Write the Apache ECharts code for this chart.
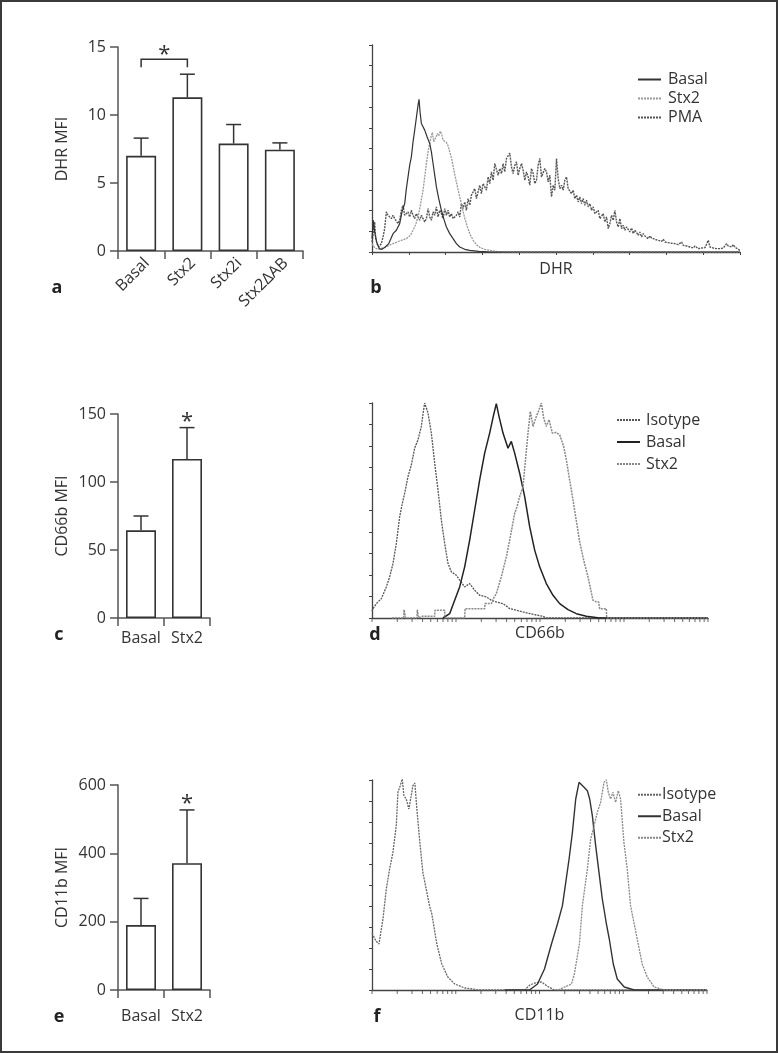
<!DOCTYPE html>
<html><head><meta charset="utf-8">
<script src="https://cdn.jsdelivr.net/npm/echarts@6/dist/echarts.min.js"></script>
<style>html,body{margin:0;padding:0;background:#fff}#c{width:778px;height:1053px}</style>
</head><body><div id="c"></div>
<script>
const FONT = "'Open Sans', 'DejaVu Sans', sans-serif";
const INK = '#333';

// ---- Panel a : DHR MFI bars ----
const aCategories = ['Basal', 'Stx2', 'Stx2i', 'Stx2ΔAB'];
const aMeans = [7.0, 11.3, 7.9, 7.45];
const aErrs = [1.3, 1.7, 1.4, 0.5];
const aBracket = [0, 1];

// ---- Panel c : CD66b MFI bars ----
const cCategories = ['Basal', 'Stx2'];
const cMeans = [64.5, 117];
const cErrs = [10.5, 23];
const cStar = [1];

// ---- Panel e : CD11b MFI bars ----
const eCategories = ['Basal', 'Stx2'];
const eMeans = [190, 371];
const eErrs = [78, 156];
const eStar = [1];

// ---- Panel b : DHR histograms (channel, counts) ----
const bBasal = [[0,40],[4,95],[8,60],[14,30],[22,10],[30,8],[40,15],[50,25],[63,55],[73,65],[83,85],[90,120],[98,145],[103,190],[108,225],[113,260],[118,285],[123,330],[128,365],[134,410],[138,440],[141,457],[144,420],[148,385],[153,375],[158,365],[165,345],[173,325],[178,300],[183,265],[188,230],[193,195],[200,160],[208,125],[215,100],[223,75],[233,55],[243,40],[253,25],[263,15],[278,8],[293,5],[320,2],[360,0],[1103,0]];
const bStx2 = [[0,25],[8,12],[20,8],[40,15],[63,25],[83,33],[103,40],[115,50],[123,65],[130,80],[138,105],[145,140],[153,185],[158,225],[163,265],[168,300],[173,325],[178,348],[181,358],[185,330],[188,325],[192,345],[196,355],[200,348],[205,362],[209,352],[213,335],[218,332],[223,328],[228,318],[233,300],[238,282],[243,258],[248,232],[255,200],[263,165],[270,135],[277,105],[285,78],[293,55],[303,35],[313,22],[323,14],[338,8],[358,4],[380,1],[420,0],[1103,0]];
const bPMA = [[0,30],[4,60],[8,90],[11,40],[15,25],[20,15],[28,25],[33,45],[38,70],[43,120],[48,110],[53,105],[58,100],[63,110],[68,100],[73,95],[78,85],[83,95],[88,125],[93,140],[98,110],[103,115],[108,120],[113,105],[118,125],[123,110],[128,100],[133,115],[138,120],[143,95],[148,110],[153,115],[158,90],[163,100],[168,130],[173,105],[178,95],[183,120],[188,110],[193,135],[198,105],[203,125],[208,115],[213,100],[218,130],[223,110],[228,125],[233,105],[238,115],[243,100],[248,105],[253,110],[258,120],[263,105],[268,145],[273,130],[278,150],[283,125],[288,160],[293,140],[298,170],[303,165],[308,190],[313,160],[318,180],[323,200],[328,175],[333,205],[338,195],[343,185],[348,225],[353,205],[358,240],[363,215],[368,265],[373,270],[378,230],[383,250],[388,235],[393,265],[398,240],[403,280],[408,275],[413,296],[418,255],[423,235],[428,260],[433,270],[438,230],[443,250],[448,265],[453,245],[458,215],[463,240],[468,225],[473,200],[478,250],[483,235],[488,205],[493,215],[498,260],[503,280],[508,225],[513,230],[518,250],[523,240],[528,210],[533,230],[538,165],[543,200],[548,185],[553,280],[558,220],[563,190],[568,200],[573,185],[578,215],[583,225],[588,190],[593,195],[598,175],[603,185],[608,160],[613,170],[618,150],[623,165],[628,145],[633,160],[638,140],[643,155],[648,135],[653,145],[658,125],[663,135],[668,115],[673,120],[678,125],[683,100],[688,105],[693,115],[698,90],[703,105],[708,70],[713,85],[718,110],[723,95],[728,125],[733,90],[738,75],[743,100],[748,70],[753,80],[758,65],[763,75],[768,70],[773,60],[778,72],[783,55],[788,65],[793,58],[798,50],[803,60],[808,45],[813,55],[818,48],[823,50],[828,40],[833,48],[838,42],[843,45],[848,38],[853,42],[858,35],[863,40],[868,32],[873,38],[878,30],[883,35],[888,28],[893,32],[898,26],[903,30],[908,25],[913,28],[918,22],[923,26],[928,30],[933,20],[938,25],[943,18],[948,22],[953,15],[958,20],[963,12],[968,18],[973,14],[978,10],[983,15],[988,12],[993,10],[998,13],[1003,11],[1008,35],[1013,15],[1018,10],[1023,12],[1028,14],[1033,10],[1038,12],[1043,10],[1048,14],[1053,12],[1058,10],[1063,25],[1068,18],[1073,20],[1078,15],[1083,22],[1088,14],[1093,10],[1098,8],[1103,5]];

// ---- Panel d : CD66b histograms (log channel, counts) ----
const dIsotype = [[0,20],[3,28],[13,43],[28,58],[43,93],[53,123],[63,163],[73,223],[83,303],[91,343],[98,373],[108,423],[118,458],[128,508],[138,533],[148,573],[153,610],[158,643],[168,613],[178,553],[188,463],[198,383],[208,293],[218,223],[228,163],[238,138],[253,128],[263,113],[278,93],[293,103],[308,83],[323,68],[343,63],[358,53],[373,48],[393,43],[413,28],[433,23],[453,18],[483,11],[513,5],[523,0],[1008,0]];
const dBasal = [[213,0],[233,13],[248,53],[263,93],[278,153],[293,233],[308,323],[323,413],[338,493],[353,553],[365,608],[373,641],[381,603],[393,553],[408,508],[418,528],[428,493],[443,433],[458,363],[473,273],[488,203],[503,153],[523,103],[543,68],[563,43],[588,25],[613,13],[643,5],[683,0],[1008,0]];
const dStx2 = [[60,0],[95,0],[96,25],[100,25],[101,0],[135,0],[136,25],[140,0],[150,5],[188,5],[189,23],[218,23],[219,0],[278,0],[279,28],[338,28],[339,43],[358,43],[365,60],[373,73],[388,123],[403,183],[415,243],[428,313],[435,333],[443,363],[453,393],[460,468],[468,553],[475,618],[483,573],[493,603],[500,620],[508,643],[515,598],[523,573],[531,593],[541,553],[552,555],[563,548],[575,513],[583,473],[590,430],[598,383],[611,303],[623,228],[635,173],[648,123],[655,90],[663,53],[673,48],[680,48],[683,28],[703,28],[704,0],[1008,0]];

// ---- Panel f : CD11b histograms (log channel, counts) ----
const fIsotype = [[0,170],[3,168],[12,147],[21,138],[33,213],[43,303],[53,363],[63,413],[73,493],[78,593],[85,613],[91,633],[96,583],[103,573],[111,543],[118,583],[123,613],[129,621],[135,543],[143,453],[153,353],[163,303],[173,253],[180,228],[195,138],[210,78],[228,39],[249,18],[279,6],[324,0],[459,0],[475,15],[490,21],[510,24],[530,10],[549,0],[1008,0]];
const fBasal = [[400,0],[474,0],[498,18],[519,63],[540,138],[558,198],[573,253],[583,323],[593,393],[603,473],[613,573],[623,623],[628,628],[638,608],[648,598],[655,573],[663,523],[673,433],[683,353],[693,273],[698,243],[705,200],[714,153],[726,78],[738,33],[759,9],[789,0],[1008,0]];
const fStx2 = [[560,0],[600,18],[609,48],[624,138],[633,253],[648,363],[658,453],[668,493],[678,533],[688,563],[698,623],[705,631],[711,593],[718,573],[725,593],[733,563],[741,598],[748,573],[758,443],[768,363],[778,253],[798,153],[813,78],[828,39],[849,9],[879,0],[1008,0]];

// log-axis tick values (4 decades)
const logTickValues = [1,2,3,4,5,6,7,8,9,10,20,30,40,50,60,70,80,90,100,200,300,400,500,600,700,800,900,1000,2000,3000,4000,5000,6000,7000,8000,9000,10000];
const DECADE = 252;

const chart = echarts.init(document.getElementById('c'), null, {renderer: 'canvas'});

const grids = [
  {left: 118, top: 47, width: 185, height: 204},
  {left: 372, top: 45, width: 368, height: 207},
  {left: 118, top: 414, width: 92, height: 204},
  {left: 372, top: 403, width: 336, height: 215},
  {left: 118, top: 785, width: 92, height: 205},
  {left: 372, top: 780, width: 335, height: 210}
];

const barAxisLine = {show: true, lineStyle: {color: '#555', width: 1.5}};
const barTick = {show: true, length: 8, lineStyle: {color: '#555', width: 1.5}};
const lbl = {fontSize: 16, color: INK, fontFamily: FONT};
const histLine = {show: true, lineStyle: {color: '#444', width: 1.3}};
const histTick = {show: true, length: 3, lineStyle: {color: '#444', width: 1}};

function catX(idx, cats, extra) {
  return Object.assign({type: 'category', gridIndex: idx, data: cats, axisLine: barAxisLine,
    axisTick: barTick, axisLabel: Object.assign({margin: 12, interval: 0, hideOverlap: false}, lbl), splitLine: {show: false}}, extra || {});
}
function barY(idx, max, interval, name) {
  return {type: 'value', gridIndex: idx, min: 0, max: max, interval: interval, name: name,
    nameLocation: 'middle', nameGap: 48, nameTextStyle: lbl,
    axisLine: barAxisLine, axisTick: barTick, axisLabel: Object.assign({margin: 12}, lbl), splitLine: {show: false}};
}
function histX(idx, max, name, gap, ticks) {
  return {type: 'value', gridIndex: idx, min: 0, max: max, interval: max / 10, name: name,
    nameLocation: 'middle', nameGap: gap, nameTextStyle: lbl,
    axisLine: histLine, axisTick: ticks ? histTick : {show: false}, axisLabel: {show: false}, splitLine: {show: false}};
}
function histY(idx, max) {
  return {type: 'value', gridIndex: idx, min: 0, max: max, interval: max / 10,
    axisLine: histLine, axisTick: histTick, axisLabel: {show: false}, splitLine: {show: false}};
}

function bars(idx, means) {
  return {type: 'bar', xAxisIndex: idx, yAxisIndex: idx, data: means, barWidth: 30, silent: true,
    itemStyle: {color: '#fff', borderColor: INK, borderWidth: 1.6}, z: 2};
}
function errBars(idx, means, errs) {
  return {type: 'custom', xAxisIndex: idx, yAxisIndex: idx, silent: true, z: 3,
    data: means.map((m, i) => [i, m, errs[i]]),
    encode: {x: 0, y: 1},
    renderItem: function (params, api) {
      const i = api.value(0), m = api.value(1), e = api.value(2);
      const p0 = api.coord([i, m]), p1 = api.coord([i, m + e]);
      const st = {stroke: INK, lineWidth: 1.5};
      return {type: 'group', children: [
        {type: 'line', shape: {x1: p0[0], y1: p0[1], x2: p1[0], y2: p1[1]}, style: st},
        {type: 'line', shape: {x1: p1[0] - 7.5, y1: p1[1], x2: p1[0] + 7.5, y2: p1[1]}, style: st}
      ]};
    }};
}
function starSeries(idx, means, errs, which) {
  return {type: 'custom', xAxisIndex: idx, yAxisIndex: idx, silent: true, z: 4,
    data: which.map(i => [i, means[i] + errs[i]]), encode: {x: 0, y: 1},
    renderItem: function (params, api) {
      const p = api.coord([api.value(0), api.value(1)]);
      return {type: 'text', style: {text: '*', x: p[0], y: p[1] - 6, textAlign: 'center',
        textVerticalAlign: 'middle', font: '22px ' + FONT, fill: INK}};
    }};
}
function bracketSeries(idx, means, errs, pair) {
  return {type: 'custom', xAxisIndex: idx, yAxisIndex: idx, silent: true, z: 4,
    data: [[pair[0], pair[1]]], encode: {x: [0, 1]},
    renderItem: function (params, api) {
      const i0 = api.value(0), i1 = api.value(1);
      const a = api.coord([i0, means[i0] + errs[i0]]), b = api.coord([i1, means[i1] + errs[i1]]);
      const yTop = Math.min(a[1], b[1]) - 15;
      const st = {stroke: INK, lineWidth: 1.5, fill: 'none'};
      return {type: 'group', children: [
        {type: 'polyline', shape: {points: [[a[0], yTop + 8], [a[0], yTop], [b[0], yTop], [b[0], yTop + 8]]}, style: st},
        {type: 'text', style: {text: '*', x: (a[0] + b[0]) / 2, y: yTop - 4, textAlign: 'center',
          textVerticalAlign: 'middle', font: '22px ' + FONT, fill: INK}}
      ]};
    }};
}
function hist(idx, name, data, style) {
  return {type: 'line', name: name, xAxisIndex: idx, yAxisIndex: idx, data: data, symbol: 'none',
    showSymbol: false, silent: true, lineStyle: style, itemStyle: {color: style.color}, z: 3};
}
function logTicks(idx) {
  return {type: 'scatter', xAxisIndex: idx, yAxisIndex: idx, silent: true, clip: false, z: 1,
    data: logTickValues.map(v => [DECADE * Math.log10(v), 0]),
    symbol: 'rect', symbolSize: [1, 4], symbolOffset: [0, 2], itemStyle: {color: '#444'}};
}

function legend(left, top, names, lh, pad) {
  return {show: true, orient: 'vertical', left: left, top: top, itemWidth: 23, itemHeight: 10, itemGap: 0,
    selectedMode: false, data: names, formatter: n => n.split(':')[1],
    itemStyle: {opacity: 0},
    textStyle: {fontSize: 16, color: INK, fontFamily: FONT, lineHeight: lh, padding: [0, 0, 0, pad]}};
}

const option = {
  animation: false,
  backgroundColor: '#fff',
  grid: grids,
  xAxis: [
    catX(0, aCategories, {axisLabel: Object.assign({rotate: 45, margin: 4, interval: 0, align: 'right', verticalAlign: 'top'}, lbl)}),
    histX(1, 1103, 'DHR', 9, true),
    catX(2, cCategories),
    histX(3, DECADE * 4, 'CD66b', 7, false),
    catX(4, eCategories, {axisLabel: Object.assign({margin: 18, interval: 0, hideOverlap: false}, lbl)}),
    histX(5, DECADE * 4, 'CD11b', 17, false)
  ],
  yAxis: [
    barY(0, 15, 5, 'DHR MFI'),
    histY(1, 620),
    barY(2, 150, 50, 'CD66b MFI'),
    histY(3, 643),
    barY(4, 600, 200, 'CD11b MFI'),
    histY(5, 630)
  ],
  legend: [
    legend(632, 65, ['b:Basal', 'b:Stx2', 'b:PMA'], 19, 2),
    legend(611, 404, ['d:Isotype', 'd:Basal', 'd:Stx2'], 22, 1),
    legend(632, 779, ['f:Isotype', 'f:Basal', 'f:Stx2'], 21.5, -4)
  ],
  series: [
    bars(0, aMeans), errBars(0, aMeans, aErrs), bracketSeries(0, aMeans, aErrs, aBracket),
    bars(2, cMeans), errBars(2, cMeans, cErrs), starSeries(2, cMeans, cErrs, cStar),
    bars(4, eMeans), errBars(4, eMeans, eErrs), starSeries(4, eMeans, eErrs, eStar),
    hist(1, 'b:PMA', bPMA, {color: '#555', width: 1.4, type: [2, 1]}),
    hist(1, 'b:Stx2', bStx2, {color: '#999', width: 1.3, type: [2, 1]}),
    hist(1, 'b:Basal', bBasal, {color: '#333', width: 1.2}),
    hist(3, 'd:Isotype', dIsotype, {color: '#555', width: 1.3, type: [2, 1]}),
    hist(3, 'd:Basal', dBasal, {color: '#222', width: 1.5}),
    hist(3, 'd:Stx2', dStx2, {color: '#888', width: 1.5, type: [2, 1]}),
    hist(5, 'f:Isotype', fIsotype, {color: '#666', width: 1.3, type: [2, 1]}),
    hist(5, 'f:Basal', fBasal, {color: '#333', width: 1.4}),
    hist(5, 'f:Stx2', fStx2, {color: '#888', width: 1.3, type: [2, 1]}),
    logTicks(3), logTicks(5)
  ],
  graphic: [
    {type: 'rect', silent: true, shape: {x: 1, y: 1, width: 776, height: 1051}, style: {fill: 'none', stroke: '#3a3a3a', lineWidth: 2}},
    {type: 'text', silent: true, x: 57, y: 288, style: {text: 'a', font: 'bold 18px ' + FONT, fill: '#222', textAlign: 'center', textVerticalAlign: 'middle'}},
    {type: 'text', silent: true, x: 376, y: 288, style: {text: 'b', font: 'bold 18px ' + FONT, fill: '#222', textAlign: 'center', textVerticalAlign: 'middle'}},
    {type: 'text', silent: true, x: 59, y: 635, style: {text: 'c', font: 'bold 18px ' + FONT, fill: '#222', textAlign: 'center', textVerticalAlign: 'middle'}},
    {type: 'text', silent: true, x: 375, y: 635, style: {text: 'd', font: 'bold 18px ' + FONT, fill: '#222', textAlign: 'center', textVerticalAlign: 'middle'}},
    {type: 'text', silent: true, x: 59, y: 1017, style: {text: 'e', font: 'bold 18px ' + FONT, fill: '#222', textAlign: 'center', textVerticalAlign: 'middle'}},
    {type: 'text', silent: true, x: 377, y: 1017, style: {text: 'f', font: 'bold 18px ' + FONT, fill: '#222', textAlign: 'center', textVerticalAlign: 'middle'}}
  ]
};
chart.setOption(option);
</script></body></html>
